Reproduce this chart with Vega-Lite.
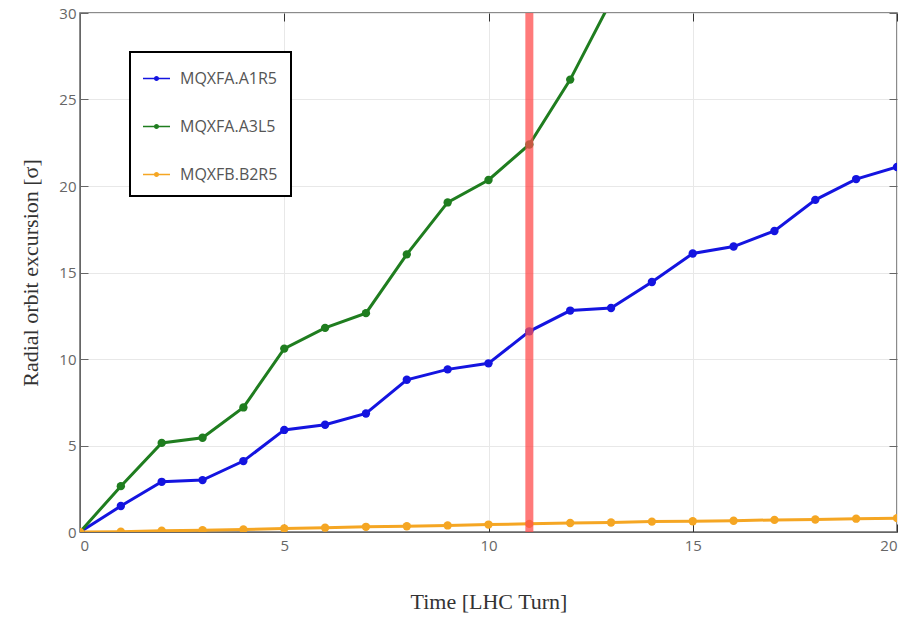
{
  "$schema": "https://vega.github.io/schema/vega-lite/v6.json",
  "width": 817,
  "height": 519,
  "autosize": {"type": "none"},
  "padding": {"left": 80, "top": 13, "right": 9, "bottom": 88},
  "background": "white",
  "config": {
    "view": {"stroke": "#666666", "strokeWidth": 1.5},
    "axis": {
      "labelFont": "Open Sans", "labelFontSize": 15, "labelColor": "#666666",
      "titleFont": "Liberation Serif", "titleFontSize": 22, "titleFontWeight": "normal", "titleColor": "#333333",
      "gridColor": "#e8e8e8", "gridWidth": 1,
      "domainColor": "#666666", "tickColor": "#333333", "tickSize": -8
    },
    "legend": {
      "strokeColor": "#000000", "strokeWidth": 2, "fillColor": "white",
      "padding": 13, "rowPadding": 26, "labelLimit": 300
    }
  },
  "datasets": {
    "series": [
      {"t": 0, "v": 0, "s": "MQXFA.A1R5"},
      {"t": 1, "v": 1.5, "s": "MQXFA.A1R5"},
      {"t": 2, "v": 2.9, "s": "MQXFA.A1R5"},
      {"t": 3, "v": 3.0, "s": "MQXFA.A1R5"},
      {"t": 4, "v": 4.1, "s": "MQXFA.A1R5"},
      {"t": 5, "v": 5.9, "s": "MQXFA.A1R5"},
      {"t": 6, "v": 6.2, "s": "MQXFA.A1R5"},
      {"t": 7, "v": 6.85, "s": "MQXFA.A1R5"},
      {"t": 8, "v": 8.8, "s": "MQXFA.A1R5"},
      {"t": 9, "v": 9.4, "s": "MQXFA.A1R5"},
      {"t": 10, "v": 9.75, "s": "MQXFA.A1R5"},
      {"t": 11, "v": 11.6, "s": "MQXFA.A1R5"},
      {"t": 12, "v": 12.8, "s": "MQXFA.A1R5"},
      {"t": 13, "v": 12.95, "s": "MQXFA.A1R5"},
      {"t": 14, "v": 14.45, "s": "MQXFA.A1R5"},
      {"t": 15, "v": 16.1, "s": "MQXFA.A1R5"},
      {"t": 16, "v": 16.5, "s": "MQXFA.A1R5"},
      {"t": 17, "v": 17.4, "s": "MQXFA.A1R5"},
      {"t": 18, "v": 19.2, "s": "MQXFA.A1R5"},
      {"t": 19, "v": 20.4, "s": "MQXFA.A1R5"},
      {"t": 20, "v": 21.1, "s": "MQXFA.A1R5"},
      {"t": 0, "v": 0, "s": "MQXFA.A3L5"},
      {"t": 1, "v": 2.65, "s": "MQXFA.A3L5"},
      {"t": 2, "v": 5.15, "s": "MQXFA.A3L5"},
      {"t": 3, "v": 5.45, "s": "MQXFA.A3L5"},
      {"t": 4, "v": 7.2, "s": "MQXFA.A3L5"},
      {"t": 5, "v": 10.6, "s": "MQXFA.A3L5"},
      {"t": 6, "v": 11.8, "s": "MQXFA.A3L5"},
      {"t": 7, "v": 12.65, "s": "MQXFA.A3L5"},
      {"t": 8, "v": 16.05, "s": "MQXFA.A3L5"},
      {"t": 9, "v": 19.05, "s": "MQXFA.A3L5"},
      {"t": 10, "v": 20.35, "s": "MQXFA.A3L5"},
      {"t": 11, "v": 22.4, "s": "MQXFA.A3L5"},
      {"t": 12, "v": 26.15, "s": "MQXFA.A3L5"},
      {"t": 13, "v": 30.7, "s": "MQXFA.A3L5"},
      {"t": 0, "v": 0, "s": "MQXFB.B2R5"},
      {"t": 1, "v": 0.02, "s": "MQXFB.B2R5"},
      {"t": 2, "v": 0.07, "s": "MQXFB.B2R5"},
      {"t": 3, "v": 0.1, "s": "MQXFB.B2R5"},
      {"t": 4, "v": 0.15, "s": "MQXFB.B2R5"},
      {"t": 5, "v": 0.2, "s": "MQXFB.B2R5"},
      {"t": 6, "v": 0.25, "s": "MQXFB.B2R5"},
      {"t": 7, "v": 0.3, "s": "MQXFB.B2R5"},
      {"t": 8, "v": 0.33, "s": "MQXFB.B2R5"},
      {"t": 9, "v": 0.38, "s": "MQXFB.B2R5"},
      {"t": 10, "v": 0.43, "s": "MQXFB.B2R5"},
      {"t": 11, "v": 0.47, "s": "MQXFB.B2R5"},
      {"t": 12, "v": 0.52, "s": "MQXFB.B2R5"},
      {"t": 13, "v": 0.55, "s": "MQXFB.B2R5"},
      {"t": 14, "v": 0.6, "s": "MQXFB.B2R5"},
      {"t": 15, "v": 0.62, "s": "MQXFB.B2R5"},
      {"t": 16, "v": 0.65, "s": "MQXFB.B2R5"},
      {"t": 17, "v": 0.7, "s": "MQXFB.B2R5"},
      {"t": 18, "v": 0.72, "s": "MQXFB.B2R5"},
      {"t": 19, "v": 0.77, "s": "MQXFB.B2R5"},
      {"t": 20, "v": 0.8, "s": "MQXFB.B2R5"}
    ],
    "marker": [{"t": 11, "y0": 0, "y1": 30}]
  },
  "layer": [
    {
      "data": {"name": "series"},
      "encoding": {
        "x": {"field": "t", "type": "quantitative", "scale": {"domain": [0, 20], "nice": false},
              "axis": {"title": "Time [LHC Turn]", "values": [0, 5, 10, 15, 20], "titlePadding": 38, "labelPadding": 14}},
        "y": {"field": "v", "type": "quantitative", "scale": {"domain": [0, 30], "nice": false},
              "axis": {"title": "Radial orbit excursion [σ]", "values": [0, 5, 10, 15, 20, 25, 30], "titlePadding": 16, "labelPadding": 12, "tickColor": "#666666"}}
      },
      "layer": [
        {
          "mark": {"type": "line", "strokeWidth": 3, "clip": true},
          "encoding": {
            "stroke": {"field": "s", "type": "nominal",
                       "scale": {"domain": ["MQXFA.A1R5", "MQXFA.A3L5", "MQXFB.B2R5"], "range": ["#1414e0", "#1f7d1f", "#f5a623"]},
                       "legend": {
                         "title": null, "orient": "none", "legendX": 50, "legendY": 39,
                         "symbolType": "M-1,-0.06L1,-0.06L1,0.06L-1,0.06Z M0.19,0 A0.19,0.19 0 1,1 -0.19,0 A0.19,0.19 0 1,1 0.19,0Z",
                         "symbolSize": 729, "symbolStrokeWidth": 0, "symbolOpacity": 1,
                         "labelFont": "Open Sans", "labelFontSize": 16, "labelColor": "#555555",
                         "labelOffset": 10
                       }}
          }
        },
        {
          "mark": {"type": "point", "filled": true, "opacity": 1, "size": 70, "clip": true, "strokeWidth": 0},
          "encoding": {
            "fill": {"field": "s", "type": "nominal",
                     "scale": {"domain": ["MQXFA.A1R5", "MQXFA.A3L5", "MQXFB.B2R5"], "range": ["#1414e0", "#1f7d1f", "#f5a623"]},
                     "legend": {
                       "title": null, "orient": "none", "legendX": 50, "legendY": 39,
                       "symbolType": "M-1,-0.06L1,-0.06L1,0.06L-1,0.06Z M0.19,0 A0.19,0.19 0 1,1 -0.19,0 A0.19,0.19 0 1,1 0.19,0Z",
                       "symbolSize": 729, "symbolStrokeWidth": 0, "symbolOpacity": 1,
                       "labelFont": "Open Sans", "labelFontSize": 16, "labelColor": "#555555",
                       "labelOffset": 10
                     }}
          }
        }
      ]
    },
    {
      "data": {"name": "marker"},
      "mark": {"type": "rule", "color": "#ff4d4d", "opacity": 0.75, "strokeWidth": 8},
      "encoding": {
        "x": {"field": "t", "type": "quantitative", "scale": {"domain": [0, 20], "nice": false},
              "axis": {"orient": "top", "title": null, "labels": false, "grid": false, "values": [0, 5, 10, 15, 20], "domain": false, "tickColor": "#333333"}},
        "y": {"field": "y0", "type": "quantitative", "scale": {"domain": [0, 30], "nice": false},
              "axis": {"orient": "right", "title": null, "labels": false, "grid": false, "values": [0, 5, 10, 15, 20, 25, 30], "domain": false, "tickColor": "#666666"}},
        "y2": {"field": "y1"}
      }
    }
  ],
  "resolve": {"scale": {"x": "independent", "y": "independent"}}
}
